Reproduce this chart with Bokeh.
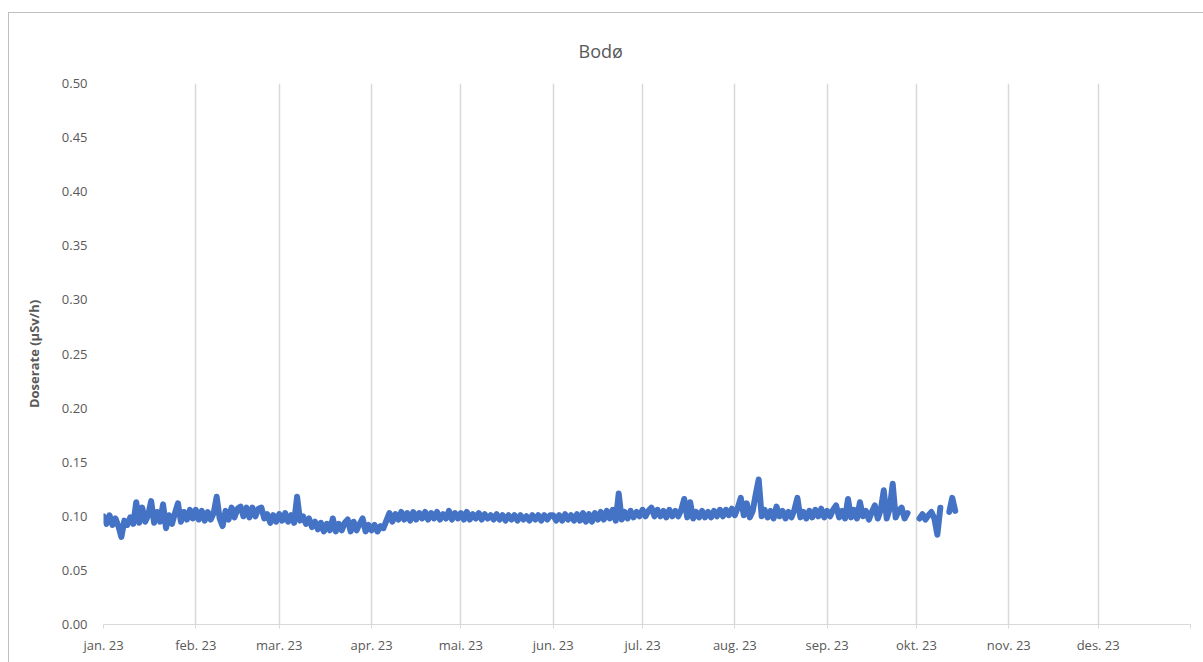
import datetime as dt
import numpy as np
from bokeh.plotting import figure
from bokeh.models import Range1d, FixedTicker, CustomJSTickFormatter
from bokeh.embed import file_html
from bokeh.resources import INLINE

title_text = "Bodø"
y_label = "Doserate (µSv/h)"
month_labels = ["jan. 23", "feb. 23", "mar. 23", "apr. 23", "mai. 23", "jun. 23",
                "jul. 23", "aug. 23", "sep. 23", "okt. 23", "nov. 23", "des. 23", ""]
month_starts = [dt.datetime(2023, m, 1) for m in range(1, 13)] + [dt.datetime(2024, 1, 1)]
y_ticks = [0.00, 0.05, 0.10, 0.15, 0.20, 0.25, 0.30, 0.35, 0.40, 0.45, 0.50]

start_day = dt.datetime(2023, 1, 1)
nan = float("nan")
# daily dose rate readings (µSv/h), from 1 Jan 2023; NaN = no data
dose_jan = [0.100, 0.093, 0.101, 0.092, 0.098, 0.091, 0.081, 0.096, 0.092, 0.099,
            0.093, 0.113, 0.094, 0.108, 0.095, 0.101, 0.114, 0.094, 0.104, 0.095,
            0.111, 0.089, 0.101, 0.093, 0.103, 0.112, 0.095, 0.104, 0.097, 0.106,
            0.098]
dose_feb = [0.106, 0.097, 0.105, 0.096, 0.104, 0.097, 0.103, 0.118, 0.098, 0.091,
            0.105, 0.097, 0.108, 0.099, 0.107, 0.109, 0.100, 0.108, 0.099, 0.108,
            0.100, 0.107, 0.108, 0.098, 0.102, 0.094, 0.101, 0.095]
dose_mar = [0.102, 0.096, 0.103, 0.095, 0.101, 0.094, 0.118, 0.096, 0.100, 0.093,
            0.098, 0.090, 0.095, 0.088, 0.094, 0.086, 0.093, 0.087, 0.098, 0.086,
            0.093, 0.087, 0.094, 0.097, 0.086, 0.095, 0.087, 0.093, 0.098, 0.086,
            0.092]
dose_apr = [0.087, 0.092, 0.086, 0.091, 0.089, 0.096, 0.103, 0.095, 0.102, 0.097,
            0.104, 0.097, 0.103, 0.096, 0.104, 0.097, 0.103, 0.098, 0.104, 0.097,
            0.103, 0.098, 0.104, 0.097, 0.102, 0.098, 0.105, 0.097, 0.103, 0.098]
dose_mai = [0.103, 0.097, 0.104, 0.097, 0.102, 0.098, 0.103, 0.097, 0.102, 0.098,
            0.101, 0.097, 0.102, 0.097, 0.101, 0.096, 0.101, 0.097, 0.101, 0.096,
            0.101, 0.097, 0.100, 0.096, 0.101, 0.097, 0.101, 0.096, 0.101, 0.097,
            0.101]
dose_jun = [0.101, 0.096, 0.101, 0.096, 0.102, 0.097, 0.101, 0.096, 0.102, 0.096,
            0.103, 0.095, 0.102, 0.095, 0.103, 0.097, 0.104, 0.097, 0.105, 0.098,
            0.106, 0.096, 0.121, 0.097, 0.104, 0.098, 0.105, 0.099, 0.104, 0.100]
dose_jul = [0.106, 0.100, 0.105, 0.108, 0.100, 0.106, 0.100, 0.105, 0.099, 0.106,
            0.100, 0.105, 0.100, 0.106, 0.116, 0.099, 0.113, 0.098, 0.104, 0.099,
            0.105, 0.099, 0.104, 0.099, 0.105, 0.100, 0.106, 0.100, 0.106, 0.101,
            0.107]
dose_aug = [0.101, 0.108, 0.117, 0.101, 0.112, 0.099, 0.105, 0.120, 0.134, 0.100,
            0.106, 0.099, 0.105, 0.098, 0.109, 0.100, 0.105, 0.098, 0.104, 0.099,
            0.106, 0.117, 0.099, 0.104, 0.098, 0.105, 0.099, 0.106, 0.100, 0.107,
            0.099]
dose_sep = [0.105, 0.100, 0.106, 0.110, 0.099, 0.105, 0.098, 0.116, 0.099, 0.106,
            0.098, 0.113, 0.100, 0.105, 0.097, 0.104, 0.110, 0.098, 0.106, 0.124,
            0.098, 0.107, 0.130, 0.099, 0.105, 0.108, 0.098, 0.103, nan, nan]
dose_okt = [nan, 0.098, 0.102, 0.097, 0.101, 0.104, 0.098, 0.083, 0.108, nan,
            nan, 0.104, 0.117, 0.105]

dose = np.array(dose_jan + dose_feb + dose_mar + dose_apr + dose_mai + dose_jun
                + dose_jul + dose_aug + dose_sep + dose_okt, dtype=float)
dates = [start_day + dt.timedelta(days=i) for i in range(len(dose))]

epoch = dt.datetime(1970, 1, 1)
def ms(d):
    return (d - epoch).total_seconds() * 1000.0

tick_ms = [ms(d) for d in month_starts]

FONT = "Open Sans"
GREY_TXT = "#595959"
GRID = "#d9d9d9"

p = figure(width=1203, height=662, output_backend="svg", toolbar_location=None,
           x_axis_type="datetime",
           x_range=Range1d(ms(month_starts[0]), ms(month_starts[-1])),
           y_range=Range1d(0, 0.5),
           min_border_left=103, min_border_right=13, min_border_top=83, min_border_bottom=38)

p.line(dates, dose, line_width=6, color="#4472C4", line_join="round", line_cap="round")

p.title.text = title_text
p.title.align = "left"
p.title.text_font = FONT
p.title.text_font_size = "18px"
p.title.text_font_style = "normal"
p.title.text_color = GREY_TXT
p.title.offset = 475
p.title.standoff = 41

p.outline_line_color = None
p.border_fill_color = None
p.background_fill_color = "white"

xa = p.xaxis[0]
xa.ticker = FixedTicker(ticks=tick_ms)
xa.major_label_overrides = {t: lab for t, lab in zip(tick_ms, month_labels)}
xa.axis_line_color = GRID
xa.major_tick_line_color = GRID
xa.major_tick_out = 4
xa.major_tick_in = 0
xa.minor_tick_line_color = None
xa.major_label_standoff = 7
xa.major_label_text_font = FONT
xa.major_label_text_font_size = "13px"
xa.major_label_text_color = GREY_TXT

ya = p.yaxis[0]
ya.ticker = FixedTicker(ticks=y_ticks)
ya.formatter = CustomJSTickFormatter(code="return tick.toFixed(2);")
ya.axis_line_color = None
ya.major_tick_line_color = None
ya.minor_tick_line_color = None
ya.major_tick_out = 0
ya.major_tick_in = 0
ya.major_label_standoff = 16
ya.major_label_text_font = FONT
ya.major_label_text_font_size = "13px"
ya.major_label_text_color = GREY_TXT
ya.axis_label = y_label
ya.axis_label_text_font = FONT
ya.axis_label_text_font_size = "13px"
ya.axis_label_text_font_style = "bold"
ya.axis_label_text_color = GREY_TXT
ya.axis_label_standoff = 16

p.xgrid.ticker = FixedTicker(ticks=tick_ms)
p.xgrid.grid_line_color = GRID
p.xgrid.grid_line_width = 1.5
p.ygrid.grid_line_color = None

p.styles = {"box-shadow": "inset 8px 12px 0 0 white, inset 9px 13px 0 0 #bfbfbf"}

open("out.html", "w").write(file_html(p, INLINE))
